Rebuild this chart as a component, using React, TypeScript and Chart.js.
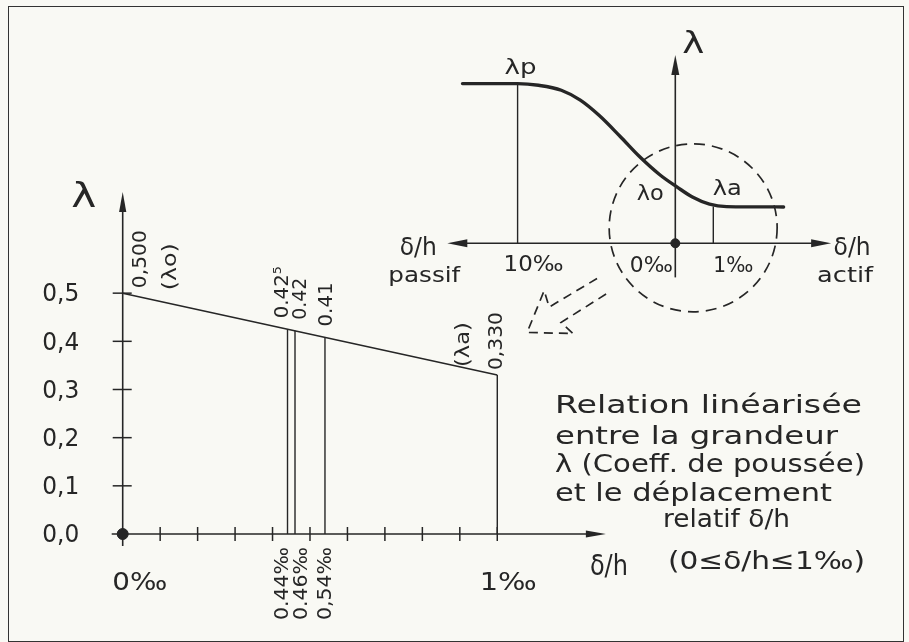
import React, { useEffect, useRef } from "react";
import { Chart, registerables } from "chart.js";

Chart.register(...registerables);

// ---------- main (linearised) chart data ----------
const xTickValues = [0.1, 0.2, 0.3, 0.4, 0.5, 0.6, 0.7, 0.8, 0.9, 1.0];
const yTickValues = [0, 0.1, 0.2, 0.3, 0.4, 0.5];
const yTickLabels = ["0,0", "0,1", "0,2", "0,3", "0,4", "0,5"];
const lineX = [0, 1];
const lineLambda = [0.5, 0.33];
const markX = [0.44, 0.46, 0.54, 1.0];
const markLambda = [0.425, 0.422, 0.408, 0.33];
const markTopLabels = ["0.42⁵", "0.42", "0.41", "0,330"];
const markBottomLabels = ["0.44‰", "0.46‰", "0,54‰"];
const axisEndLabels = ["0‰", "1‰"];

// ---------- inset (non-linear) chart data ----------
const insetCurveX = [-5.6, -4.15, -3.6, -3.0, -2.5, -2.0, -1.45, -0.95, -0.4, 0.05, 0.45, 0.9, 1.35, 2.85];
const insetCurveY = [1.45, 1.45, 1.435, 1.39, 1.3, 1.16, 0.97, 0.79, 0.62, 0.51, 0.42, 0.355, 0.333, 0.33];
const insetMarkX = [-4.15, 1.0];
const insetMarkY = [1.45, 0.335];
const insetMarkLabels = ["10‰", "1‰"];

const INK = "#262626";
const BG = "#f9f9f4";
const FONT = "'DejaVu Sans', 'Liberation Sans', sans-serif";

type TxtOpt = { w?: number; rot?: number; align?: CanvasTextAlign; base?: CanvasTextBaseline; weight?: string };
function drawText(ctx: CanvasRenderingContext2D, s: string, x: number, y: number, size: number, opt: TxtOpt = {}) {
  const { w, rot = 0, align = "center", base = "middle", weight = "normal" } = opt;
  ctx.save();
  ctx.translate(x, y);
  if (rot) ctx.rotate(rot);
  ctx.font = `${weight} ${size}px ${FONT}`;
  ctx.textAlign = align;
  ctx.textBaseline = base;
  if (w) {
    const m = ctx.measureText(s).width;
    if (m > 0) ctx.scale(w / m, 1);
  }
  ctx.fillStyle = INK;
  ctx.fillText(s, 0, 0);
  ctx.restore();
}

function seg(ctx: CanvasRenderingContext2D, x1: number, y1: number, x2: number, y2: number) {
  ctx.beginPath();
  ctx.moveTo(x1, y1);
  ctx.lineTo(x2, y2);
  ctx.stroke();
}

function arrowHead(ctx: CanvasRenderingContext2D, tx: number, ty: number, dx: number, dy: number, len = 20, hw = 3.8) {
  const bx = tx - dx * len, by = ty - dy * len;
  const px = -dy, py = dx;
  ctx.beginPath();
  ctx.moveTo(tx, ty);
  ctx.lineTo(bx + px * hw, by + py * hw);
  ctx.lineTo(bx - px * hw, by - py * hw);
  ctx.closePath();
  ctx.fill();
}

const mainDecor = {
  id: "mainDecor",
  beforeDatasetsDraw(chart: any) {
    const ctx: CanvasRenderingContext2D = chart.ctx;
    const xs = chart.scales.x, ys = chart.scales.y;
    const x0 = xs.getPixelForValue(0), y0 = ys.getPixelForValue(0);
    ctx.save();
    ctx.strokeStyle = INK;
    ctx.fillStyle = INK;
    ctx.lineWidth = 1.6;
    seg(ctx, x0, ys.top + 8, x0, y0 + 12);
    seg(ctx, x0 - 11, y0, xs.right - 8, y0);
    arrowHead(ctx, xs.right, y0, 1, 0, 20, 3.6);
    arrowHead(ctx, x0, ys.top, 0, -1, 20, 3.6);
    ctx.lineWidth = 1.5;
    yTickValues.forEach((v) => {
      if (v === 0) return;
      const y = ys.getPixelForValue(v);
      seg(ctx, x0 - 10, y, x0 + 9, y);
    });
    xTickValues.forEach((v) => {
      const x = xs.getPixelForValue(v);
      seg(ctx, x, y0 - 7, x, y0 + 7);
    });
    ctx.restore();
  },
  afterDatasetsDraw(chart: any) {
    const ctx: CanvasRenderingContext2D = chart.ctx;
    const xs = chart.scales.x, ys = chart.scales.y;
    const x0 = xs.getPixelForValue(0), y0 = ys.getPixelForValue(0);
    const up = -Math.PI / 2;
    yTickValues.forEach((v, i) => {
      drawText(ctx, yTickLabels[i], x0 - 62, ys.getPixelForValue(v) + 2, 24, { w: 37 });
    });
    drawText(ctx, "λ", x0 - 39, ys.top + 6, 34, { w: 25 });
    drawText(ctx, axisEndLabels[0], xs.getPixelForValue(0) + 17, y0 + 50, 24, { w: 55 });
    drawText(ctx, axisEndLabels[1], xs.getPixelForValue(1) + 11, y0 + 50, 24, { w: 57 });
    drawText(ctx, "δ/h", xs.right + 3, y0 + 34, 28, { w: 38 });
    drawText(ctx, "0,500", x0 + 18, ys.getPixelForValue(lineLambda[0]) - 5, 20, { rot: up, align: "left", w: 58 });
    drawText(ctx, "(λo)", x0 + 48, ys.getPixelForValue(lineLambda[0]) - 3, 20, { rot: up, align: "left", w: 47 });
    const topOff = [-5, 6, 2, 0];
    const topLen = [52, 42, 44, 58];
    markTopLabels.forEach((s, i) => {
      const yb = i === 3 ? ys.getPixelForValue(markLambda[i]) - 5 : ys.getPixelForValue(markLambda[i]) - 11;
      drawText(ctx, s, xs.getPixelForValue(markX[i]) + topOff[i], yb, 20, { rot: up, align: "left", w: topLen[i] });
    });
    drawText(ctx, "(λa)", xs.getPixelForValue(1) - 33, ys.getPixelForValue(lineLambda[1]) - 8, 20, { rot: up, align: "left", w: 45 });
    const botOff = [-5, 7, 1];
    markBottomLabels.forEach((s, i) => {
      drawText(ctx, s, xs.getPixelForValue(markX[i]) + botOff[i], y0 + 86, 20, { rot: up, align: "left", w: 73 });
    });
    const blk: [string, number, number, number][] = [
      ["Relation linéarisée", 555, 413, 307],
      ["entre la grandeur", 555, 444, 283],
      ["λ (Coeff. de poussée)", 555, 472, 310],
      ["et le déplacement", 555, 501, 277],
      ["relatif δ/h", 663, 527, 127],
      ["(0≤δ/h≤1‰)", 668, 569, 197],
    ];
    blk.forEach(([s, x, y, w]) => drawText(ctx, s, x, y, 25, { align: "left", base: "alphabetic", w }));
  },
};

const insetDecor = {
  id: "insetDecor",
  beforeDatasetsDraw(chart: any) {
    const ctx: CanvasRenderingContext2D = chart.ctx;
    const xs = chart.scales.x, ys = chart.scales.y;
    const X = (v: number) => xs.getPixelForValue(v);
    const Y = (v: number) => ys.getPixelForValue(v);
    const x0 = X(0), y0 = Y(0);
    ctx.save();
    ctx.strokeStyle = INK;
    ctx.fillStyle = INK;
    ctx.lineWidth = 1.6;
    seg(ctx, xs.left + 10, y0, xs.right - 10, y0);
    arrowHead(ctx, xs.left, y0, -1, 0, 20, 4);
    arrowHead(ctx, xs.right, y0, 1, 0, 20, 4);
    seg(ctx, x0, Y(-0.31), x0, ys.top + 10);
    arrowHead(ctx, x0, ys.top, 0, -1, 20, 4);
    ctx.setLineDash([11, 7]);
    ctx.lineWidth = 1.7;
    ctx.beginPath();
    const r = X(2.21) - X(0);
    ctx.arc(X(0.47), Y(0.14), r, 0, Math.PI * 2);
    ctx.stroke();
    const pts: [number, number][] = [
      [-2.06, -0.32], [-3.32, -0.58], [-3.45, -0.43], [-3.9, -0.81], [-2.69, -0.82], [-3.01, -0.72], [-1.77, -0.45],
    ];
    ctx.setLineDash([9, 6]);
    ctx.beginPath();
    pts.forEach(([a, b], i) => (i ? ctx.lineTo(X(a), Y(b)) : ctx.moveTo(X(a), Y(b))));
    ctx.stroke();
    ctx.restore();
  },
  afterDatasetsDraw(chart: any) {
    const ctx: CanvasRenderingContext2D = chart.ctx;
    const xs = chart.scales.x, ys = chart.scales.y;
    const X = (v: number) => xs.getPixelForValue(v);
    const Y = (v: number) => ys.getPixelForValue(v);
    const x0 = X(0), y0 = Y(0);
    drawText(ctx, "λ", x0 + 18, ys.top - 10, 30, { w: 22 });
    drawText(ctx, "λp", X(insetMarkX[0]) + 3, Y(insetMarkY[0]) - 15, 22, { w: 32 });
    drawText(ctx, "λo", x0 - 25, y0 - 49, 22, { w: 27 });
    drawText(ctx, "λa", X(insetMarkX[1]) + 14, Y(insetMarkY[1]) - 17, 22, { w: 29 });
    drawText(ctx, insetMarkLabels[0], X(insetMarkX[0]) + 16, y0 + 22, 22, { w: 60 });
    drawText(ctx, "0‰", x0 - 24, y0 + 23, 22, { w: 43 });
    drawText(ctx, insetMarkLabels[1], X(insetMarkX[1]) + 20, y0 + 23, 22, { w: 40 });
    drawText(ctx, "δ/h", xs.left - 29, y0 + 6, 24, { w: 37 });
    drawText(ctx, "passif", xs.left - 23, y0 + 33, 22, { w: 72 });
    drawText(ctx, "δ/h", xs.right + 21, y0 + 6, 24, { w: 37 });
    drawText(ctx, "actif", xs.right + 14, y0 + 33, 22, { w: 56 });
  },
};

export default function App() {
  const mainRef = useRef<HTMLCanvasElement>(null);
  const insetRef = useRef<HTMLCanvasElement>(null);

  useEffect(() => {
    const main = new Chart(mainRef.current as HTMLCanvasElement, {
      type: "scatter",
      data: {
        datasets: [
          {
            data: lineX.map((x, i) => ({ x, y: lineLambda[i] })),
            showLine: true,
            borderColor: INK,
            borderWidth: 1.5,
            pointRadius: 0,
          },
          {
            data: markX.flatMap((x, i) => [
              { x, y: 0 },
              { x, y: markLambda[i] },
              { x, y: null as any },
            ]),
            showLine: true,
            spanGaps: false,
            borderColor: INK,
            borderWidth: 1.4,
            pointRadius: 0,
          },
          {
            data: [{ x: 0, y: 0 }],
            pointRadius: 5.5,
            pointBackgroundColor: INK,
            pointBorderColor: INK,
            clip: false as any,
          },
        ],
      },
      options: {
        animation: false,
        responsive: false,
        devicePixelRatio: 1,
        events: [],
        layout: { padding: { left: 122.7, right: 303.1, top: 192, bottom: 108 } },
        scales: {
          x: { type: "linear", min: 0, max: 1.29, display: false },
          y: { type: "linear", min: 0, max: 0.71, display: false },
        },
        plugins: { legend: { display: false }, tooltip: { enabled: false } },
      },
      plugins: [mainDecor],
    });

    const inset = new Chart(insetRef.current as HTMLCanvasElement, {
      type: "scatter",
      data: {
        datasets: [
          {
            data: insetCurveX.map((x, i) => ({ x, y: insetCurveY[i] })),
            showLine: true,
            cubicInterpolationMode: "monotone",
            borderColor: INK,
            borderWidth: 3.4,
            borderCapStyle: "round",
            pointRadius: 0,
          },
          {
            data: insetMarkX.flatMap((x, i) => [
              { x, y: 0 },
              { x, y: insetMarkY[i] },
              { x, y: null as any },
            ]),
            showLine: true,
            spanGaps: false,
            borderColor: INK,
            borderWidth: 1.4,
            pointRadius: 0,
          },
          {
            data: [{ x: 0, y: 0 }],
            pointRadius: 4.5,
            pointBackgroundColor: INK,
            pointBorderColor: INK,
            clip: false as any,
          },
        ],
      },
      options: {
        animation: false,
        responsive: false,
        devicePixelRatio: 1,
        events: [],
        layout: { padding: { left: 447.3, right: 77.9, top: 55, bottom: 354.7 } },
        scales: {
          x: { type: "linear", min: -6, max: 4.1, display: false },
          y: { type: "linear", min: -0.4, max: 1.71, display: false },
        },
        plugins: { legend: { display: false }, tooltip: { enabled: false } },
      },
      plugins: [insetDecor],
    });

    return () => {
      main.destroy();
      inset.destroy();
    };
  }, []);

  return (
    <div style={{ position: "absolute", left: 0, top: 0, width: 909, height: 642, background: BG, overflow: "hidden" }}>
      <div
        style={{
          position: "absolute",
          left: 8,
          top: 6,
          width: 896,
          height: 636,
          border: "1.6px solid #333",
          boxSizing: "border-box",
        }}
      />
      <canvas ref={mainRef} width={909} height={642} style={{ position: "absolute", left: 0, top: 0 }} />
      <canvas ref={insetRef} width={909} height={642} style={{ position: "absolute", left: 0, top: 0 }} />
    </div>
  );
}
